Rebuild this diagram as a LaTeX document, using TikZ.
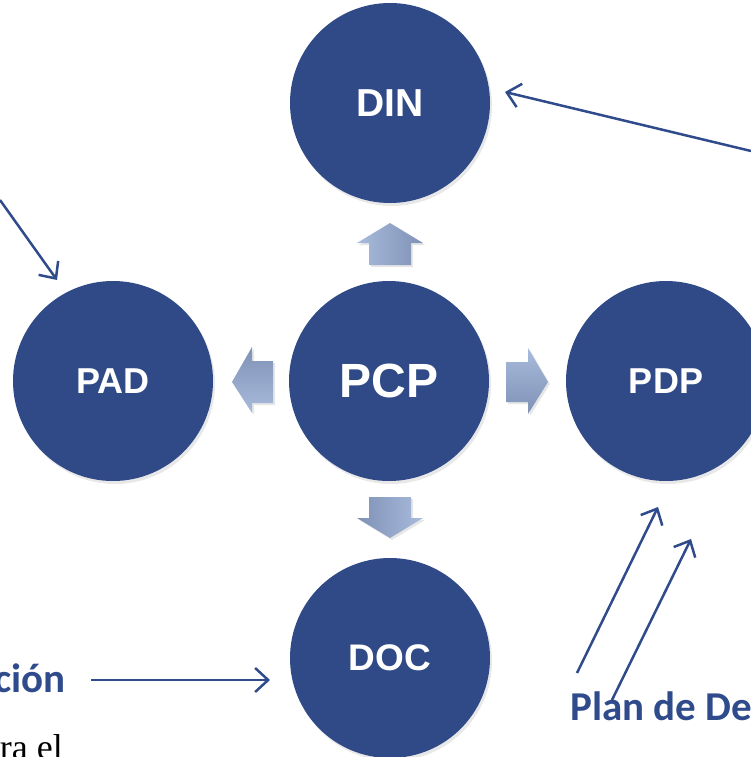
\documentclass[tikz,border=0pt]{standalone}
\usepackage{fontspec}
\setmainfont{Liberation Serif}
\newfontfamily\arialf{Liberation Sans}
\newfontfamily\calib{Carlito}
\usetikzlibrary{arrows.meta,shadows}
\definecolor{circblue}{HTML}{304A88}
\definecolor{lineblue}{HTML}{2F4B8C}
\definecolor{arrlight}{HTML}{A8BBDC}
\definecolor{arrdark}{HTML}{7F92B6}
\tikzset{
  bubble/.style={circle, fill=circblue, minimum size=200pt, inner sep=0pt,
    text=white, font=\arialf\bfseries,
    drop shadow={opacity=0.18, shadow xshift=2pt, shadow yshift=-3pt}},
  thinarrow/.style={draw=lineblue, line width=2.5pt,
    -{Straight Barb[length=13pt,width=24pt,line width=2.5pt]}},
  bluelabel/.style={text=lineblue, font=\calib\bfseries\fontsize{41}{48}\selectfont, inner sep=0pt},
  blockshadow/.style={drop shadow={opacity=0.2, shadow xshift=2pt, shadow yshift=-2pt}}
}
\begin{document}
\begin{tikzpicture}[x=1pt,y=-1pt]
\useasboundingbox (0,0) rectangle (751,757);
\clip (0,0) rectangle (751,757);
% circles
\node[bubble, font=\arialf\bfseries\fontsize{39}{42}\selectfont] (din) at (390,103) {DIN};
\node[bubble, font=\arialf\bfseries\fontsize{48}{52}\selectfont] (pcp) at (389,381) {PCP};
\node[bubble, font=\arialf\bfseries\fontsize{36}{40}\selectfont] (pad) at (113,381) {PAD};
\node[bubble, font=\arialf\bfseries\fontsize{36}{40}\selectfont] (pdp) at (666,381) {PDP};
\node[bubble, font=\arialf\bfseries\fontsize{37}{40}\selectfont] (doc) at (390,658) {DOC};
% block arrows
\shade[left color=arrlight, right color=arrdark, blockshadow]
  (369,265) -- (369,243) -- (357,243) -- (390,223) -- (423,243) -- (411,243) -- (411,265) -- cycle;
\shade[top color=arrlight, bottom color=arrdark, blockshadow]
  (506,362) -- (528,362) -- (528,348) -- (548,382) -- (528,414) -- (528,402) -- (506,402) -- cycle;
\shade[left color=arrdark, right color=arrlight, blockshadow]
  (369,497) -- (411,497) -- (411,518) -- (423,518) -- (390,538) -- (357,518) -- (369,518) -- cycle;
\shade[top color=arrdark, bottom color=arrlight, blockshadow]
  (273,361) -- (252,361) -- (252,347) -- (232,382) -- (252,413) -- (252,403) -- (273,403) -- cycle;
% thin arrows
\coordinate (tlA) at (0,200);
\coordinate (tlB) at (57,280);
\coordinate (trA) at (751,151);
\coordinate (trB) at (505,92);
\coordinate (blA) at (91,680);
\coordinate (blB) at (270,680);
\coordinate (d1A) at (577,673);
\coordinate (d1B) at (658,507);
\coordinate (d2A) at (612,700);
\coordinate (d2B) at (691,539);
\draw[thinarrow] (tlA) -- (tlB);
\draw[thinarrow] (trA) -- (trB);
\draw[thinarrow] (blA) -- (blB);
\draw[thinarrow] (d1A) -- (d1B);
\draw[thinarrow] (d2A) -- (d2B);
% texts
\node[bluelabel, anchor=base east] (cion) at (66,692) {ción};
\node[bluelabel, anchor=base west] (plan) at (570,720) {Plan de De};
\node[inner sep=0pt, anchor=base east, font=\fontsize{36}{38}\selectfont] (rael) at (63,759) {ra el};
\end{tikzpicture}
\end{document}
